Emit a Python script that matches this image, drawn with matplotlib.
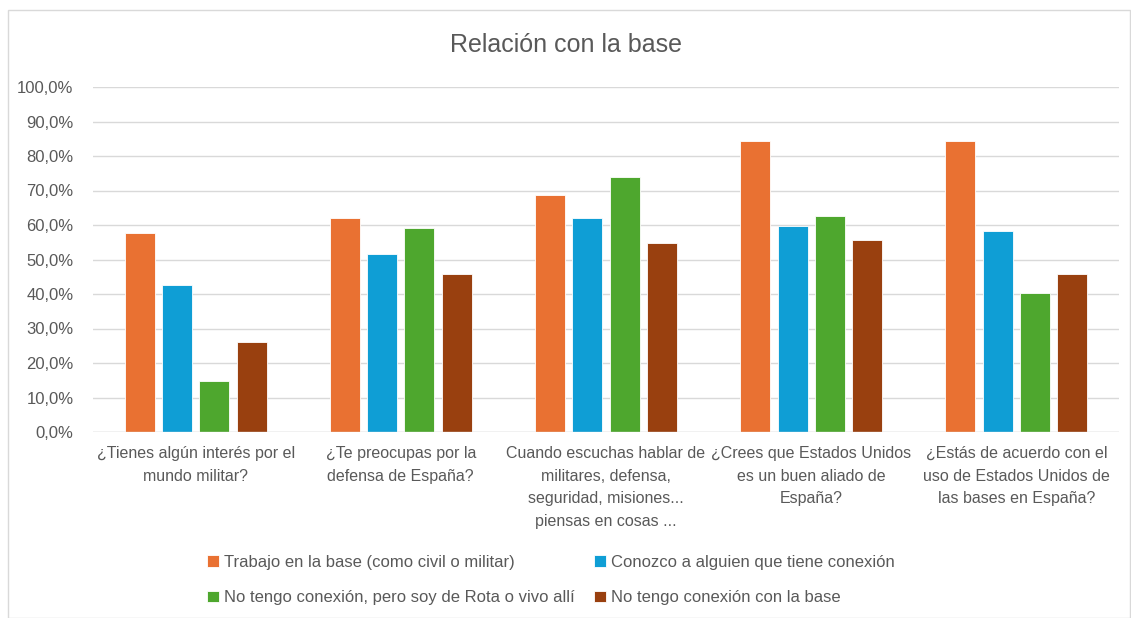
import numpy as np
import matplotlib.pyplot as plt
from matplotlib.patches import Rectangle

plt.rcParams['font.family'] = ['Liberation Sans', 'DejaVu Sans']

categories = [
    "¿Tienes algún interés por el\nmundo militar?",
    "¿Te preocupas por la\ndefensa de España?",
    "Cuando escuchas hablar de\nmilitares, defensa,\nseguridad, misiones...\npiensas en cosas ...",
    "¿Crees que Estados Unidos\nes un buen aliado de\nEspaña?",
    "¿Estás de acuerdo con el\nuso de Estados Unidos de\nlas bases en España?",
]
series = [
    "Trabajo en la base (como civil o militar)",
    "Conozco a alguien que tiene conexión",
    "No tengo conexión, pero soy de Rota o vivo allí",
    "No tengo conexión con la base",
]
trabajo = [57.6, 62.0, 68.7, 84.3, 84.3]
conozco = [42.6, 51.7, 62.1, 59.6, 58.3]
rota = [14.8, 59.0, 73.9, 62.7, 40.4]
sin_conexion = [26.0, 45.7, 54.7, 55.6, 45.7]
values = [trabajo, conozco, rota, sin_conexion]
colors = ["#E97132", "#0F9ED5", "#4EA72E", "#99400F"]

fig = plt.figure(figsize=(11.31, 6.18), dpi=100)
ax = fig.add_axes([93 / 1131, 1 - 432 / 618, 1026 / 1131, 345 / 618])

x = np.arange(len(categories))
w = 0.146
pitch = 0.182
bars = []
for i, (vals, c, s) in enumerate(zip(values, colors, series)):
    b = ax.bar(x + (i - 1.5) * pitch, vals, width=w, color=c, label=s,
               edgecolor="white", linewidth=0.6, zorder=3)
    bars.append(b)

ax.set_xlim(-0.5, len(categories) - 0.5)
ax.set_ylim(0, 100)
ax.set_yticks(np.arange(0, 101, 10))
ax.set_yticklabels([f"{v:.1f}%".replace(".", ",") for v in range(0, 101, 10)],
                   fontsize=12, color="#595959")
ax.set_xticks(x)
ax.set_xticklabels(categories, fontsize=11.5, color="#595959", linespacing=1.65)
ax.tick_params(length=0, pad=10)
ax.tick_params(axis="y", pad=14)
ax.grid(axis="y", color="#D9D9D9", linewidth=1, zorder=0)
for sp in ax.spines.values():
    sp.set_visible(False)
ax.axhline(0, color="#D9D9D9", linewidth=1, zorder=4)

fig.text(0.5, 1 - 45 / 618, "Relación con la base", ha="center", va="center",
         fontsize=18, color="#595959")

# legend filled row by row: matplotlib fills by column, so reorder
order = [0, 2, 1, 3]
fig.legend([bars[i] for i in order], [series[i] for i in order],
           loc="center", bbox_to_anchor=(0.487, 1 - 580 / 618), ncol=2,
           frameon=False, fontsize=12, labelcolor="#595959",
           handlelength=0.7, handleheight=0.7, handletextpad=0.3,
           columnspacing=1.2, labelspacing=1.25)

fig.patches.append(Rectangle((8 / 1131, 0), 1 - 8 / 1131 - 0.001, 1 - 10 / 618,
                             transform=fig.transFigure, fill=False,
                             edgecolor="#D9D9D9", linewidth=1))

fig.savefig("out.png", dpi=100)
